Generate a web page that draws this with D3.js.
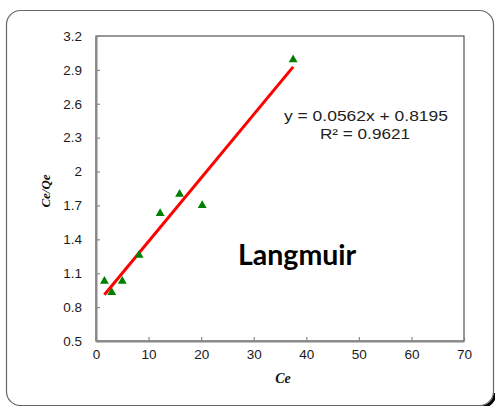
<!DOCTYPE html>
<html lang="en">
<head>
    <meta charset="UTF-8">
    <title>Langmuir</title>
    <script src="https://d3js.org/d3.v7.min.js"></script>
    <style>
        body { margin: 0; background: #fff; }
        .tick text { font-family: "Liberation Sans", Arial, sans-serif; font-size: 13.5px; fill: #1a1a1a; }
    </style>
</head>
<body>
    <div id="chart"></div>
    <script>
        // data
        const ce = [1.6, 3.0, 5.0, 8.2, 12.2, 15.9, 20.2, 37.5];
        const ceQe = [1.03, 0.93, 1.03, 1.26, 1.63, 1.80, 1.70, 2.99];
        const xTicks = [0, 10, 20, 30, 40, 50, 60, 70];
        const yTicks = [0.5, 0.8, 1.1, 1.4, 1.7, 2, 2.3, 2.6, 2.9, 3.2];
        const slope = 0.0562, intercept = 0.8195;
        const fitX = [1.6, 37.5];
        const eqText = ["y = 0.0562x + 0.8195", "R\u00b2 = 0.9621"];

        const width = 495, height = 406;
        const plotL = 96, plotT = 36, plotR = 464, plotB = 341;

        const svg = d3.select("#chart").append("svg")
            .attr("width", width)
            .attr("height", height);

        // outer rounded frame + dark corner
        svg.append("path")
            .attr("d", "M495,393 A14,14 0 0 1 481,407")
            .attr("fill", "none")
            .attr("stroke", "#000")
            .attr("stroke-width", 3);
        svg.append("rect")
            .attr("x", 6.5).attr("y", 10.5)
            .attr("width", 487).attr("height", 395)
            .attr("rx", 14)
            .attr("fill", "#fff")
            .attr("stroke", "#666")
            .attr("stroke-width", 1.2);

        const x = d3.scaleLinear().domain([0, 70]).range([plotL, plotR]);
        const y = d3.scaleLinear().domain([0.5, 3.2]).range([plotB, plotT]);

        // plot border (top / right)
        svg.append("rect")
            .attr("x", plotL).attr("y", plotT)
            .attr("width", plotR - plotL).attr("height", plotB - plotT)
            .attr("fill", "none")
            .attr("stroke", "#333")
            .attr("stroke-width", 1);

        const yAxis = svg.append("g")
            .attr("transform", `translate(${plotL},0)`)
            .call(d3.axisLeft(y).tickValues(yTicks).tickFormat(d => String(d))
                .tickSizeInner(-4).tickSizeOuter(0).tickPadding(14));
        const xAxis = svg.append("g")
            .attr("transform", `translate(0,${plotB})`)
            .call(d3.axisBottom(x).tickValues(xTicks).tickFormat(d => String(d))
                .tickSizeInner(-4).tickSizeOuter(0).tickPadding(8));

        [xAxis, yAxis].forEach(a => {
            a.attr("font-size", null).attr("font-family", null);
            a.select(".domain").attr("stroke", "#888").attr("stroke-width", 2);
            a.selectAll(".tick line").attr("stroke", "#888").attr("stroke-width", 1.2);
        });

        // trend line
        svg.append("path")
            .datum(fitX)
            .attr("fill", "none")
            .attr("stroke", "#ff0000")
            .attr("stroke-width", 3)
            .attr("d", d3.line().x(d => x(d)).y(d => y(slope * d + intercept)));

        // points
        svg.append("g").selectAll("path")
            .data(d3.zip(ce, ceQe))
            .join("path")
            .attr("transform", d => `translate(${x(d[0])},${y(d[1])})`)
            .attr("d", d3.symbol(d3.symbolTriangle, 34))
            .attr("fill", "#008000");

        // equation
        svg.append("text")
            .attr("x", 284).attr("y", 121)
            .attr("textLength", 164).attr("lengthAdjust", "spacingAndGlyphs")
            .style("font-family", "'Liberation Sans', Arial, sans-serif")
            .style("font-size", "15px").attr("fill", "#222")
            .text(eqText[0]);
        svg.append("text")
            .attr("x", 320).attr("y", 139)
            .attr("textLength", 90).attr("lengthAdjust", "spacingAndGlyphs")
            .style("font-family", "'Liberation Sans', Arial, sans-serif")
            .style("font-size", "15px").attr("fill", "#222")
            .text(eqText[1]);

        svg.append("text")
            .attr("x", 238).attr("y", 265)
            .style("font-family", "Lato, 'Open Sans', sans-serif")
            .style("font-weight", "bold")
            .style("font-size", "28.5px").attr("fill", "#000")
            .text("Langmuir");

        // axis titles
        svg.append("text")
            .attr("transform", "translate(50,191) rotate(-90)")
            .attr("text-anchor", "middle")
            .style("font-family", "'Liberation Serif', 'Times New Roman', serif")
            .style("font-style", "italic").style("font-weight", "bold")
            .style("font-size", "13px").attr("fill", "#111")
            .text("Ce/Qe");
        svg.append("text")
            .attr("x", 283).attr("y", 383)
            .attr("text-anchor", "middle")
            .style("font-family", "'Liberation Serif', 'Times New Roman', serif")
            .style("font-style", "italic").style("font-weight", "bold")
            .style("font-size", "14px").attr("fill", "#111")
            .text("Ce");
    </script>
</body>
</html>
